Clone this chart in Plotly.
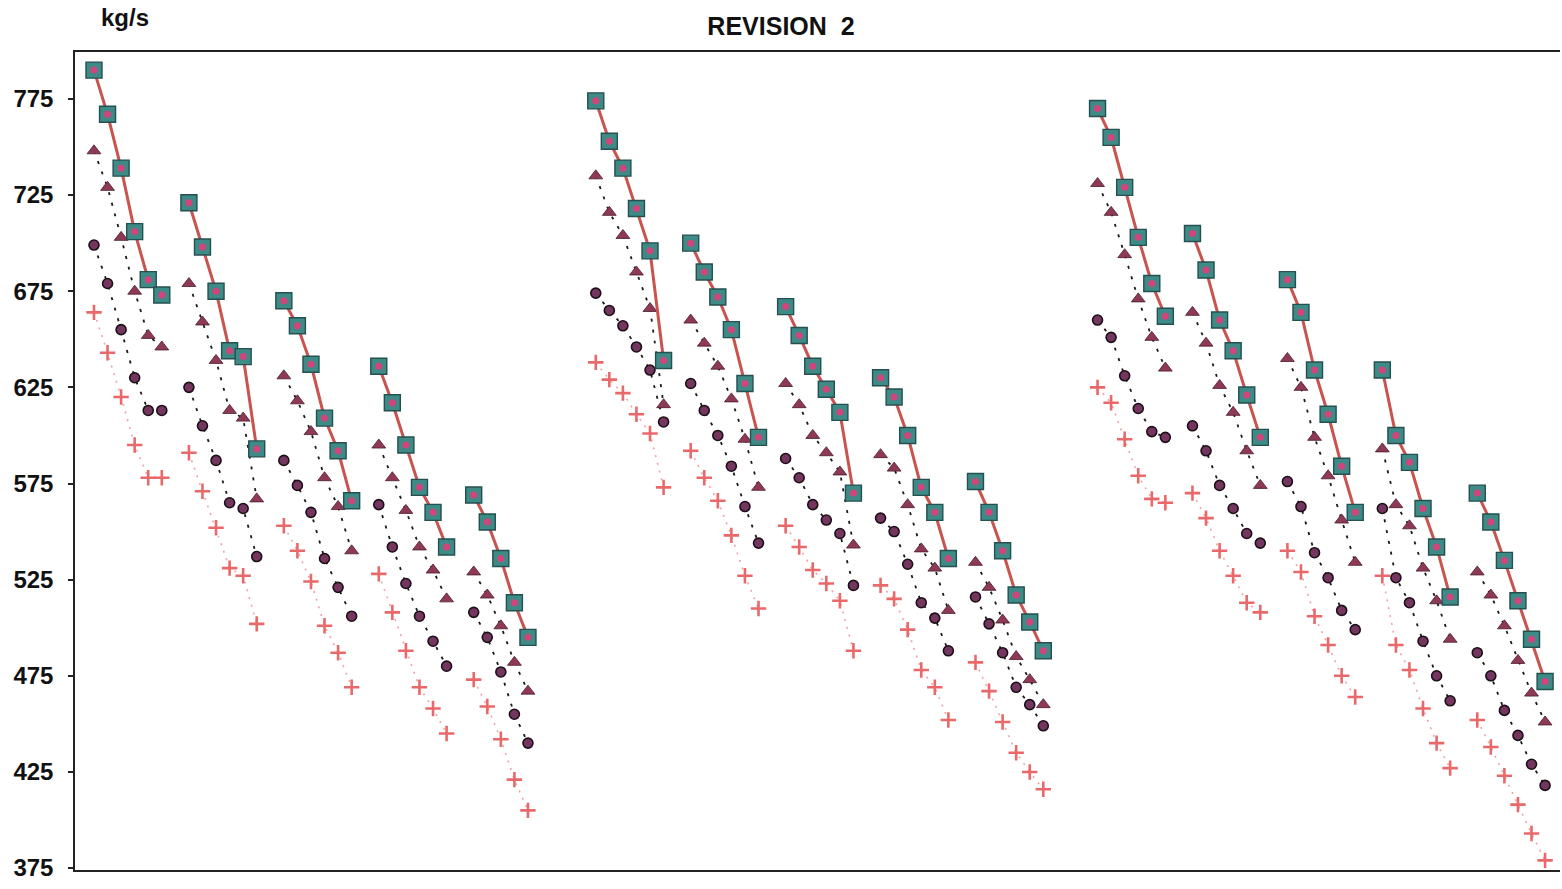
import plotly.graph_objects as go

# ---- flow readings (kg/s), one list per run; 5 runs per block, 3 blocks ----
square_runs = [
    [790, 767, 739, 706, 681, 673],
    [721, 698, 675, 644, 641, 593],
    [670, 657, 637, 609, 592, 566],
    [636, 617, 595, 573, 560, 542],
    [569, 555, 536, 513, 495],
    [774, 753, 739, 718, 696, 639],
    [700, 685, 672, 655, 627, 599],
    [667, 652, 636, 624, 612, 570],
    [630, 620, 600, 573, 560, 536],
    [576, 560, 540, 517, 503, 488],
    [770, 755, 729, 703, 679, 662],
    [705, 686, 660, 644, 621, 599],
    [681, 664, 634, 611, 584, 560],
    [634, 600, 586, 562, 542, 516],
    [570, 555, 535, 514, 494, 472],
]
triangle_runs = [
    [748, 729, 703, 675, 652, 646],
    [679, 659, 639, 613, 609, 567],
    [631, 618, 602, 578, 563, 540],
    [595, 578, 561, 542, 530, 515],
    [529, 517, 501, 482, 467],
    [735, 716, 704, 685, 666, 616],
    [660, 648, 636, 619, 598, 573],
    [627, 616, 600, 591, 581, 543],
    [590, 583, 564, 541, 531, 509],
    [534, 521, 504, 485, 473, 460],
    [731, 716, 694, 671, 651, 635],
    [664, 648, 626, 612, 592, 574],
    [640, 625, 599, 579, 556, 534],
    [593, 564, 553, 531, 514, 494],
    [529, 517, 501, 483, 466, 451],
]
circle_runs = [
    [699, 679, 655, 630, 613, 613],
    [625, 605, 587, 565, 562, 537],
    [587, 574, 560, 536, 521, 506],
    [564, 542, 523, 506, 493, 480],
    [508, 495, 477, 455, 440],
    [674, 665, 657, 646, 634, 607],
    [627, 613, 600, 584, 563, 544],
    [588, 578, 564, 556, 549, 522],
    [557, 550, 533, 513, 505, 488],
    [516, 502, 487, 469, 460, 449],
    [660, 651, 631, 614, 602, 599],
    [605, 592, 574, 562, 549, 544],
    [576, 563, 539, 526, 509, 499],
    [562, 526, 513, 493, 475, 462],
    [487, 475, 457, 444, 429, 418],
]
plus_runs = [
    [664, 643, 620, 595, 578, 578],
    [591, 571, 552, 531, 527, 502],
    [553, 540, 524, 501, 487, 469],
    [528, 508, 488, 469, 458, 445],
    [473, 459, 442, 421, 405],
    [638, 629, 622, 611, 601, 573],
    [592, 578, 566, 548, 527, 510],
    [553, 542, 530, 523, 514, 488],
    [522, 515, 499, 478, 469, 452],
    [482, 467, 451, 435, 425, 416],
    [625, 617, 598, 579, 567, 565],
    [570, 557, 540, 527, 513, 508],
    [540, 529, 506, 491, 475, 464],
    [527, 491, 478, 458, 440, 427],
    [452, 438, 423, 408, 393, 379],
]

y_ticks = [375, 425, 475, 525, 575, 625, 675, 725, 775]

RUNS_PER_BLOCK = 5
RUN_SPACING = 7      # sample slots per run (6 samples + 1 blank)
BLOCK_SPACING = 37   # sample slots per block

run_starts = [b * BLOCK_SPACING + r * RUN_SPACING
              for b in range(3) for r in range(RUNS_PER_BLOCK)]


def flatten(runs):
    """Join runs into one x/y pair, breaking the line between runs."""
    xs, ys = [], []
    for start, vals in zip(run_starts, runs):
        xs += [start + i for i in range(len(vals))] + [None]
        ys += list(vals) + [None]
    return xs, ys


fig = go.Figure()

# pluses, dotted pink
x, y = flatten(plus_runs)
fig.add_trace(go.Scatter(
    x=x, y=y, mode="lines+markers", connectgaps=False,
    line=dict(color="#f0a3a3", width=1.6, dash="2px,6px"),
    marker=dict(symbol="cross-thin", size=11,
                line=dict(color="#e9696a", width=2.6)),
))

# circles, dashed black
x, y = flatten(circle_runs)
fig.add_trace(go.Scatter(
    x=x, y=y, mode="lines+markers", connectgaps=False,
    line=dict(color="#1a1a1a", width=1.8, dash="3px,8px"),
    marker=dict(symbol="circle", size=10, color="#74365f",
                line=dict(color="#1c1018", width=1.6)),
))

# triangles, dashed black
x, y = flatten(triangle_runs)
fig.add_trace(go.Scatter(
    x=x, y=y, mode="lines+markers", connectgaps=False,
    line=dict(color="#1a1a1a", width=1.8, dash="3px,8px"),
    marker=dict(symbol="triangle-up", size=12, color="#8e3a57",
                line=dict(color="#4a1c2c", width=0.8)),
))

# squares, solid red line
x, y = flatten(square_runs)
fig.add_trace(go.Scatter(
    x=x, y=y, mode="lines+markers", connectgaps=False,
    line=dict(color="#c8534f", width=3),
    marker=dict(symbol="square", size=16, color="#3e8a87",
                line=dict(color="#24504f", width=1.4)),
))
# pink centre dot on each square
fig.add_trace(go.Scatter(
    x=x, y=y, mode="markers",
    marker=dict(symbol="circle", size=7, color="#d2457a"),
))

bold = dict(family="Liberation Sans, Arial, sans-serif", size=24,
            color="#111111", weight="bold")
title_font = dict(bold, size=25)

fig.update_layout(
    width=1562, height=889,
    margin=dict(l=75, r=2, t=52, b=19),
    paper_bgcolor="white", plot_bgcolor="white",
    showlegend=False,
    title=dict(text="REVISION&nbsp;&nbsp;2", x=0.5, xanchor="center",
               y=1 - 26 / 889, yanchor="middle", font=title_font),
    xaxis=dict(range=[-1.4, 108.1], showgrid=False, zeroline=False,
               showticklabels=False, ticks="",
               showline=True, mirror=True, linecolor="#222222", linewidth=1.5),
    yaxis=dict(range=[374, 799.4], tickvals=y_ticks, showgrid=False,
               zeroline=False, ticks="outside", ticklen=5, tickwidth=1.5,
               tickcolor="#222222", ticklabelstandoff=10,
               showline=True, linecolor="#222222", linewidth=1.5,
               tickfont=bold),
    annotations=[dict(text="kg/s", xref="paper", yref="paper",
                      x=(125 - 75) / 1485, y=(870 - 18) / 818,
                      xanchor="center", yanchor="middle",
                      showarrow=False, font=bold)],
)

fig.write_html("out.html")
